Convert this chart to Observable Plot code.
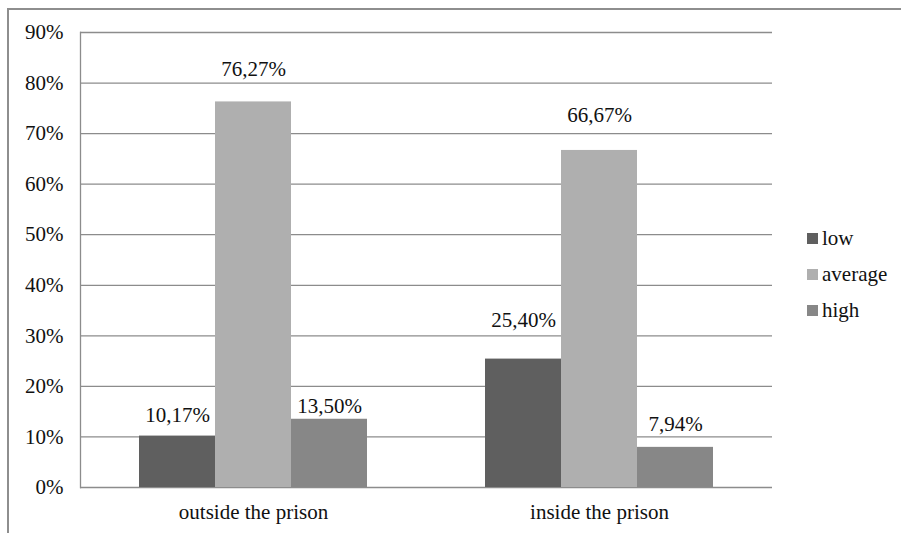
<!DOCTYPE html>
<html>
<head>
<meta charset="utf-8">
<script src="https://cdn.jsdelivr.net/npm/d3@7"></script>
<script src="https://cdn.jsdelivr.net/npm/@observablehq/plot@0.6"></script>
<style>
  html, body { margin: 0; padding: 0; background: #fff; }
  #wrap { position: relative; width: 901px; height: 533px; overflow: hidden; font-family: "Liberation Serif", "DejaVu Serif", serif; color: #111; }
  #wrap svg { position: absolute; left: 0; top: 0; }
  #edge { position: absolute; left: 7px; top: 8px; width: 900px; height: 530px; border-top: 2px solid #8e8e8e; border-left: 2px solid #8e8e8e; box-sizing: border-box; }
  #legend { position: absolute; left: 807px; top: 220px; font-size: 21px; line-height: 36px; }
  #legend .row { display: flex; align-items: center; height: 36px; }
  #legend .sw { width: 11px; height: 11px; margin-right: 4px; }
</style>
</head>
<body>
<div id="wrap">
  <div id="edge"></div>
  <div id="legend"></div>
</div>
<script>
// Groups along the horizontal axis and the three levels within each group
const categories = ["outside the prison", "inside the prison"];
const levels = ["low", "average", "high"];

// Shares (%) for each level, one array per group
const outsideValues = [10.17, 76.27, 13.50];
const insideValues = [25.40, 66.67, 7.94];

// Vertical axis ticks (%)
const yTicks = [0, 10, 20, 30, 40, 50, 60, 70, 80, 90];

// Fill for each level
const levelColors = ["#5f5f5f", "#afafaf", "#878787"];

// Long table for the marks
const groupValues = [outsideValues, insideValues];
const rows = categories.flatMap((category, i) =>
  levels.map((level, j) => ({category, level, value: groupValues[i][j]}))
);

// Distance (px) between each value label's baseline and the top of its bar
const labelLift = {
  "outside the prison|low": 14,
  "outside the prison|average": 26,
  "outside the prison|high": 6,
  "inside the prison|low": 32,
  "inside the prison|average": 28,
  "inside the prison|high": 16
};

const fmt = v => v.toFixed(2).replace(".", ",") + "%";
const gridColor = "#8c8c8c";
const textColor = "#111";
const serif = "\"Liberation Serif\", \"DejaVu Serif\", serif";

const chart = Plot.plot({
  width: 901,
  height: 533,
  marginLeft: 79,
  marginRight: 129,
  marginTop: 32,
  marginBottom: 46,
  style: {fontFamily: serif, fontSize: "21px", color: textColor, background: "transparent"},
  fx: {domain: categories, padding: 0, label: null},
  x: {domain: levels, paddingInner: 0, paddingOuter: 0.76, axis: null},
  y: {domain: [0, 90], axis: null},
  color: {domain: levels, range: levelColors},
  marks: [
    Plot.gridY(yTicks, {stroke: gridColor, strokeOpacity: 1, strokeWidth: 1.3}),
    Plot.frame({anchor: "left", facetAnchor: "left", stroke: gridColor, strokeWidth: 1.3}),
    Plot.barY(rows, {fx: "category", x: "level", y: "value", fill: "level"}),
    ...rows.map(r => Plot.text([r], {
      fx: "category", x: "level", y: "value",
      text: d => fmt(d.value),
      lineAnchor: "bottom",
      dy: -labelLift[r.category + "|" + r.level],
      fill: textColor,
      fontFamily: serif
    })),
    Plot.axisY(yTicks, {tickSize: 0, tickPadding: 17, tickFormat: d => d + "%", label: null, fill: textColor, fontFamily: serif}),
    Plot.axisFx({anchor: "bottom", tickSize: 0, tickPadding: 17, label: null, fill: textColor, fontFamily: serif})
  ]
});

document.getElementById("wrap").appendChild(chart);

// Legend built from the same levels and colours
const legend = d3.select("#legend");
levels.forEach((level, i) => {
  const row = legend.append("div").attr("class", "row");
  row.append("div").attr("class", "sw").style("background", levelColors[i]);
  row.append("span").text(level);
});
</script>
</body>
</html>
